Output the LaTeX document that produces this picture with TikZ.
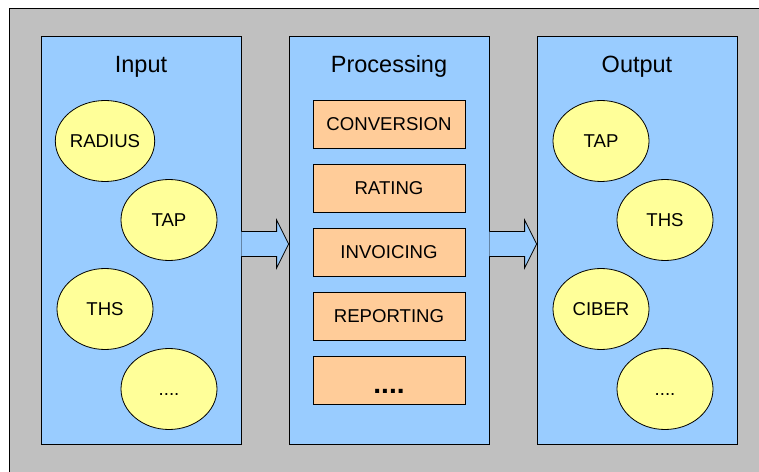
\documentclass[tikz,border=0pt]{standalone}
\usepackage{fontspec}
\setmainfont{Liberation Sans}
\usepackage{tikz}
\usetikzlibrary{positioning,calc,shapes.geometric}
\definecolor{bggray}{HTML}{C0C0C0}
\definecolor{panelblue}{HTML}{99CCFF}
\definecolor{srcyellow}{HTML}{FFFF99}
\definecolor{steporange}{HTML}{FFCC99}
\tikzset{
  panel/.style={draw, line width=0.8bp, fill=panelblue, minimum width=200bp, minimum height=408bp, inner sep=0pt},
  paneltitle/.style={anchor=base, font=\fontsize{23.5bp}{26bp}\selectfont},
  src/.style={ellipse, draw, line width=0.8bp, fill=srcyellow, minimum width=96bp, minimum height=81bp, inner sep=0pt,
    font=\fontsize{18.6bp}{20bp}\selectfont, text height=13bp, text depth=0pt},
  stepbox/.style={rectangle, draw, line width=0.8bp, fill=steporange, minimum width=152bp, minimum height=48bp, inner sep=0pt,
    font=\fontsize{18.6bp}{20bp}\selectfont, text height=13bp, text depth=0pt},
  flow/.style={draw, line width=0.8bp, fill=panelblue}
}
\begin{document}
\begin{tikzpicture}[x=1bp,y=-1bp]
\useasboundingbox (0,0) rectangle (759,472);
\fill[bggray] (9,8) rectangle (759,472);
\draw[line width=0.8bp] (9,472) |- (759,8);
% the three stages
\node[panel] (inp) at (141,240) {};
\node[panel] (proc) at (389,240) {};
\node[panel] (outp) at (637,240) {};
\node[paneltitle] (inptitle) at (141,73) {Input};
\node[paneltitle] (proctitle) at (389,73) {Processing};
\node[paneltitle] (outptitle) at (637,73) {Output};
% input sources
\node[src] (inradius) at (105,141) {RADIUS};
\node[src] (intap) at (169,220) {TAP};
\node[src] (inths) at (105,309) {THS};
\node[src] (inmore) at (169,389) {....};
% processing steps
\foreach \nm/\txt [count=\i] in {conv/CONVERSION, rate/RATING, inv/INVOICING, rep/REPORTING}
  \node[stepbox] (\nm) at (389,60+64*\i) {\txt};
\node[stepbox, text height=26bp, font=\fontsize{28bp}{30bp}\selectfont\bfseries] (stepmore) at (389,380) {....};
% output files
\node[src] (outtap) at (601,141) {TAP};
\node[src] (outths) at (665,220) {THS};
\node[src] (outciber) at (601,309) {CIBER};
\node[src] (outmore) at (665,389) {....};
% block arrows
\foreach \a/\b in {inp/proc, proc/outp}
  \draw[flow] ($(\a.east)+(0,-8.5)$) -- ($(\b.west)+(-12,-8.5)$) -- ($(\b.west)+(-12,-20)$)
    -- ($(\b.west)+(0,4)$) -- ($(\b.west)+(-12,28)$) -- ($(\b.west)+(-12,16.5)$) -- ($(\a.east)+(0,16.5)$);
\end{tikzpicture}
\end{document}
